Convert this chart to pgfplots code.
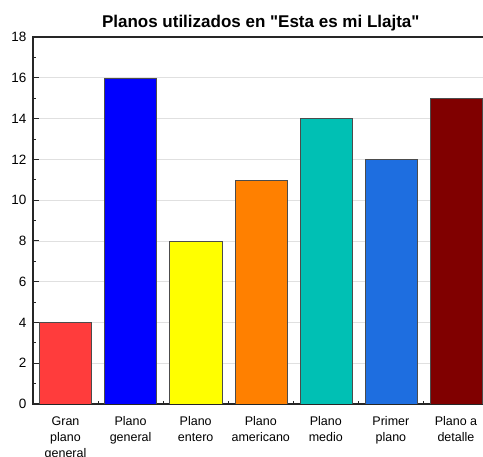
\documentclass[border=0pt]{standalone}
\usepackage{pgfplots}
\pgfplotsset{compat=1.18}
\usepackage{fontspec}
\setmainfont{Liberation Sans}[Ligatures=TeXOff]

\definecolor{cRed}{HTML}{FF3C3C}
\definecolor{cBlue}{HTML}{0000FF}
\definecolor{cYellow}{HTML}{FFFF00}
\definecolor{cOrange}{HTML}{FF8000}
\definecolor{cTeal}{HTML}{00C0B4}
\definecolor{cSky}{HTML}{1E6EE0}
\definecolor{cMaroon}{HTML}{800000}

\pgfplotsset{
    layers/gridback/.define layer set={
        axis background,axis grid,main,axis ticks,axis lines,
        axis tick labels,axis descriptions,axis foreground
    }{},
}

\begin{document}
\begin{tikzpicture}
\begin{axis}[
    at={(0,0)}, anchor=south west,
    scale only axis,
    width=455.5pt, height=367pt,
    set layers=gridback,
    xmin=-0.5, xmax=6.5,
    ymin=0, ymax=18,
    ybar, bar width=0.8, bar shift=0pt,
    xtick={0,...,6},
    minor xtick={0.5,1.5,...,5.5},
    xticklabels={Gran\\plano\\general, Plano\\general, Plano\\entero, Plano\\americano, Plano\\medio, Primer\\plano, Plano a\\detalle},
    xticklabel style={align=center, font=\fontsize{12.5}{16}\selectfont, yshift=-9pt},
    ytick={0,2,...,18},
    minor y tick num=1,
    yticklabel style={font=\fontsize{13.5}{16}\selectfont, xshift=-3pt},
    /pgf/number format/assume math mode=true,
    tick align=inside,
    xtick pos=bottom, ytick pos=left,
    major tick length=6pt, minor tick length=3pt,
    tick style={black!85, line width=0.8pt},
    ymajorgrids,
    grid style={black!12, line width=0.6pt},
    axis line style={black!85, line width=1.1pt},
    title={Planos utilizados en "Esta es mi Llajta"},
    title style={font=\bfseries\fontsize{17}{20}\selectfont, yshift=-4pt},
    every axis plot/.append style={draw=black!70, line width=0.4pt},
]
\addplot[fill=cRed] coordinates {(0,4)};
\addplot[fill=cBlue] coordinates {(1,16)};
\addplot[fill=cYellow] coordinates {(2,8)};
\addplot[fill=cOrange] coordinates {(3,11)};
\addplot[fill=cTeal] coordinates {(4,14)};
\addplot[fill=cSky] coordinates {(5,12)};
\addplot[fill=cMaroon] coordinates {(6,15)};
\end{axis}
\pgfresetboundingbox
\path (-33pt,-53pt) rectangle (450pt,404pt);
\end{tikzpicture}
\end{document}
